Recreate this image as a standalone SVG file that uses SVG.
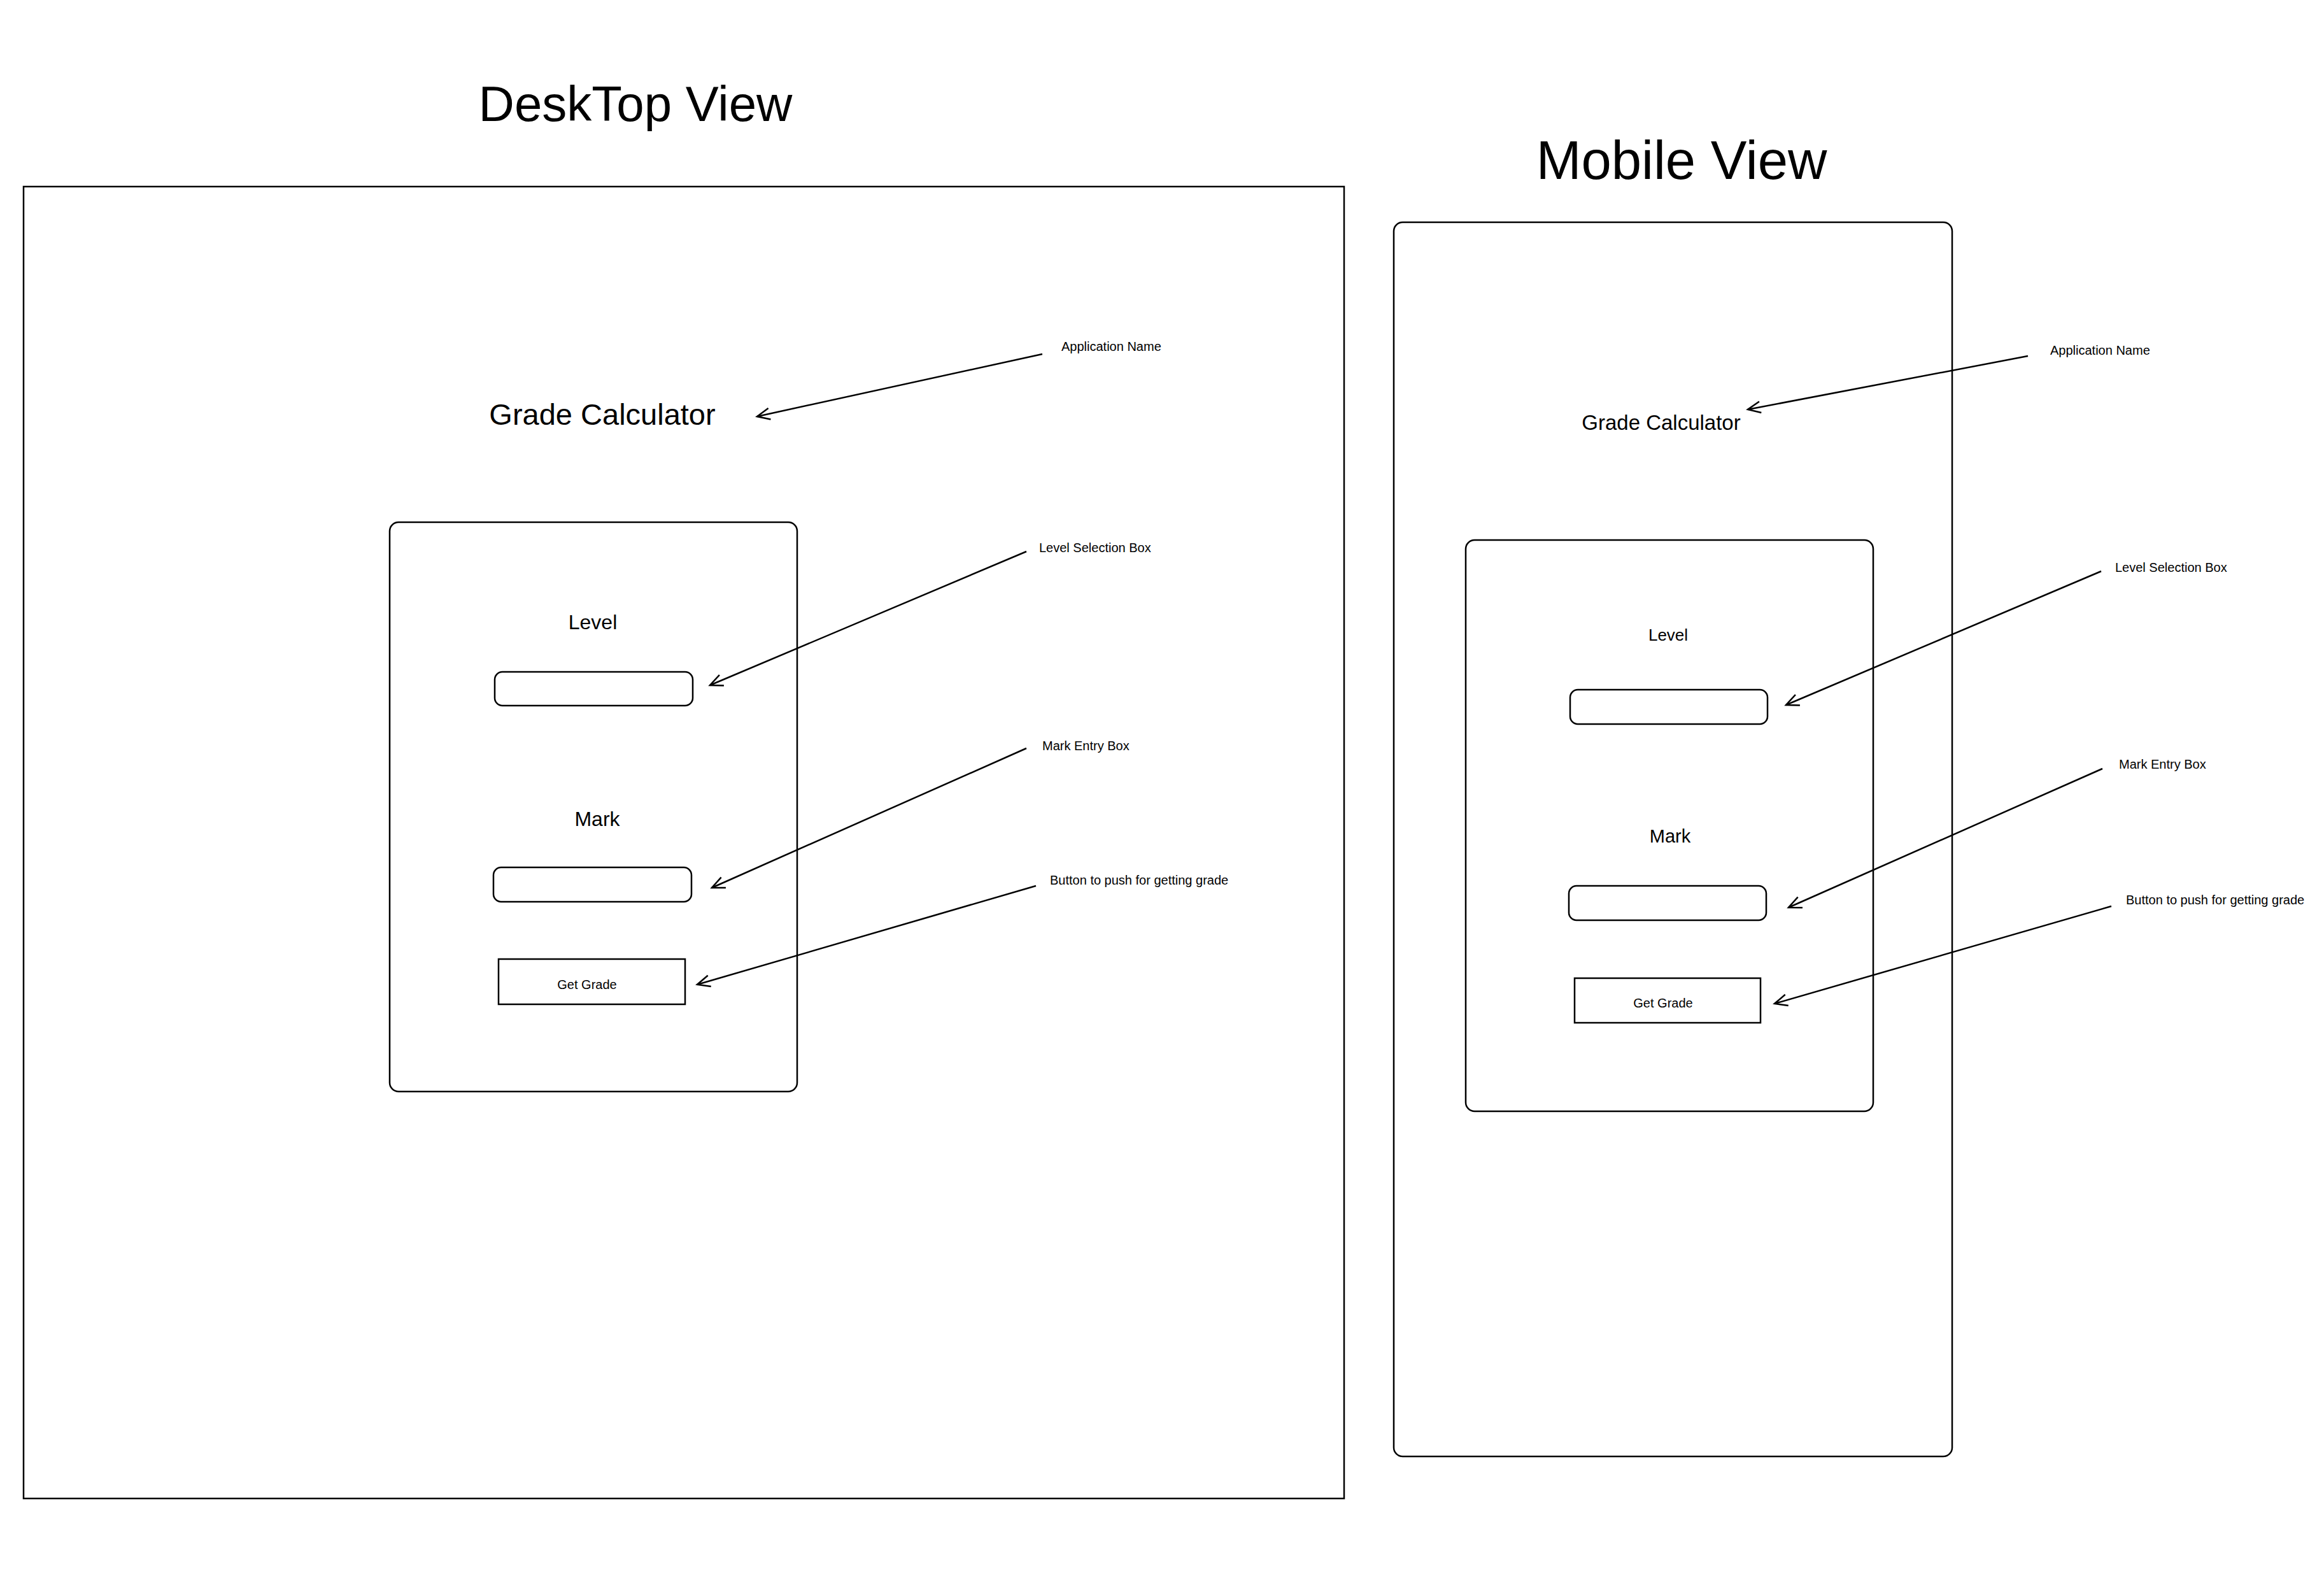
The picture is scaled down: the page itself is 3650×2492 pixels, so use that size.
<svg xmlns="http://www.w3.org/2000/svg" width="3650" height="2492" viewBox="0 0 3650 2492">
<style>
  text { font-family: "Liberation Sans", Arial, Helvetica, sans-serif; fill: #000; }
  .box { fill: none; stroke: #000; stroke-width: 2.5; }
  .inp { fill: #fff; stroke: #000; stroke-width: 2.5; }
  .con { fill: none; stroke: #000; stroke-width: 2.5; marker-end: url(#open); }
  .note { font-size: 20px; }
  .c { text-anchor: middle; }
</style>
<defs>
  <marker id="open" markerUnits="userSpaceOnUse" markerWidth="26" markerHeight="26" viewBox="0 0 26 26" refX="23" refY="13" orient="auto">
    <path d="M3,4 L23,13 L3,22" fill="none" stroke="#000" stroke-width="2.5"/>
  </marker>
</defs>
<rect width="3650" height="2492" fill="#fff"/>

<g id="desktop-title"><text class="c" x="998" y="190" font-size="78">DeskTop View</text></g>
<g id="desktop-frame"><rect class="box" x="37" y="293" width="2074" height="2060"/></g>
<g id="desktop-app-name"><text class="c" x="946" y="667" font-size="47">Grade Calculator</text></g>
<g id="desktop-form"><rect class="box" x="612" y="820" width="640" height="894" rx="14"/></g>
<g id="desktop-level-label"><text class="c" x="931" y="988" font-size="32">Level</text></g>
<g id="desktop-level-box"><rect class="inp" x="777" y="1055" width="311" height="53" rx="12"/></g>
<g id="desktop-mark-label"><text class="c" x="938" y="1297" font-size="32">Mark</text></g>
<g id="desktop-mark-box"><rect class="inp" x="775" y="1362" width="311" height="54" rx="12"/></g>
<g id="desktop-button"><rect class="inp" x="783" y="1506" width="293" height="71"/><text class="c" x="922" y="1553" font-size="20">Get Grade</text></g>
<g id="desktop-note-app"><text class="note" x="1667" y="551">Application Name</text></g>
<g id="desktop-note-level"><text class="note" x="1632" y="867">Level Selection Box</text></g>
<g id="desktop-note-mark"><text class="note" x="1637" y="1178">Mark Entry Box</text></g>
<g id="desktop-note-button"><text class="note" x="1649" y="1389">Button to push for getting grade</text></g>

<g id="mobile-title"><text class="c" x="2641" y="281" font-size="85">Mobile View</text></g>
<g id="mobile-frame"><rect class="box" x="2189" y="349" width="877" height="1938" rx="14"/></g>
<g id="mobile-app-name"><text class="c" x="2609" y="675" font-size="33">Grade Calculator</text></g>
<g id="mobile-form"><rect class="box" x="2302" y="848" width="640" height="897" rx="14"/></g>
<g id="mobile-level-label"><text class="c" x="2620" y="1006" font-size="26">Level</text></g>
<g id="mobile-level-box"><rect class="inp" x="2466" y="1083" width="310" height="54" rx="12"/></g>
<g id="mobile-mark-label"><text class="c" x="2623" y="1323" font-size="29">Mark</text></g>
<g id="mobile-mark-box"><rect class="inp" x="2464" y="1391" width="310" height="54" rx="12"/></g>
<g id="mobile-button"><rect class="inp" x="2473" y="1536" width="292" height="70"/><text class="c" x="2612" y="1582" font-size="20">Get Grade</text></g>
<g id="mobile-note-app"><text class="note" x="3220" y="557">Application Name</text></g>
<g id="mobile-note-level"><text class="note" x="3322" y="898">Level Selection Box</text></g>
<g id="mobile-note-mark"><text class="note" x="3328" y="1207">Mark Entry Box</text></g>
<g id="mobile-note-button"><text class="note" x="3339" y="1420">Button to push for getting grade</text></g>

<g id="connectors">
  <path class="con" d="M1637,556 L1189,654"/>
  <path class="con" d="M1612,866 L1115,1076"/>
  <path class="con" d="M1612,1175 L1118,1394"/>
  <path class="con" d="M1627,1391 L1095,1546"/>
  <path class="con" d="M3185,559 L2745,643"/>
  <path class="con" d="M3300,897 L2805,1107"/>
  <path class="con" d="M3302,1207 L2809,1425"/>
  <path class="con" d="M3316,1423 L2787,1576"/>
</g>
</svg>
